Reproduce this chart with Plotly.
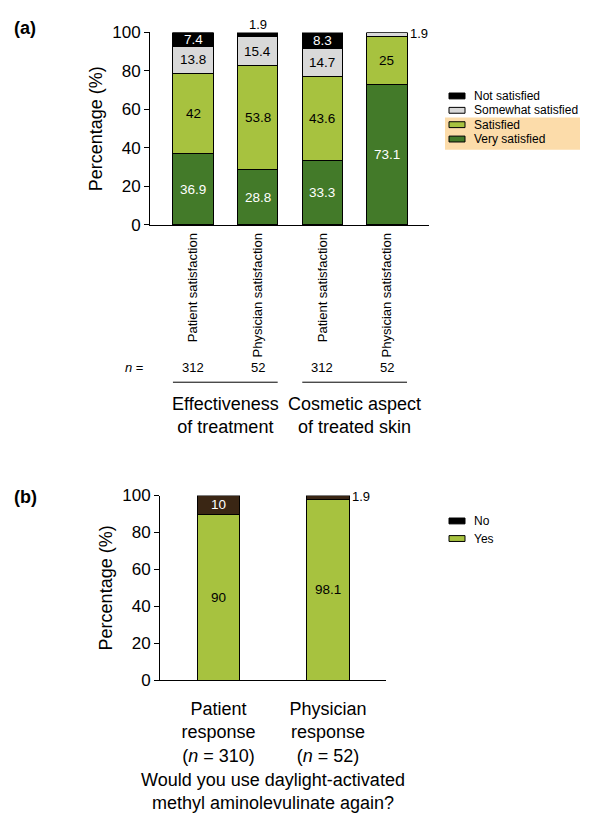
import plotly.graph_objects as go

W, H = 595, 826

# ---------------- data: panel (a) ----------------
cat_a = ["Patient satisfaction", "Physician satisfaction",
         "Patient satisfaction", "Physician satisfaction"]
n_a = ["312", "52", "312", "52"]
groups_a = ["Effectiveness<br>of treatment", "Cosmetic aspect<br>of treated skin"]
series_a = ["Very satisfied", "Satisfied", "Somewhat satisfied", "Not satisfied"]
very_satisfied = [36.9, 28.8, 33.3, 73.1]
satisfied = [42, 53.8, 43.6, 25]
somewhat_satisfied = [13.8, 15.4, 14.7, 1.9]
not_satisfied = [7.4, 1.9, 8.3, 0]

# ---------------- data: panel (b) ----------------
cat_b = ["Patient<br>response<br>(<i>n</i> = 310)", "Physician<br>response<br>(<i>n</i> = 52)"]
series_b = ["Yes", "No"]
yes_b = [90, 98.1]
no_b = [10, 1.9]

yticks = [0, 20, 40, 60, 80, 100]

# ---------------- styles ----------------
FONT = "Liberation Sans, Arial, sans-serif"
colors_a = ["#437a29", "#a7c23f", "#d9d9d9", "#000000"]
textcol_a = ["white", "black", "black", "white"]
colors_b = ["#a7c23f", "#3a2614"]
legend_col_b = ["#a7c23f", "#000000"]
textcol_b = ["black", "white"]
BW_A = 0.62
BW_B = 0.39
# where small (outside) labels go: (panel, bar index) -> side
outside_side = {("a", 1): "above", ("a", 3): "right", ("b", 1): "right"}


def px(x):
    return x / W


def py(y):
    return 1 - y / H


fig = go.Figure()
annotations = []
shapes = []

values_a = [very_satisfied, satisfied, somewhat_satisfied, not_satisfied]
xa = list(range(len(cat_a)))
for name, vals, col in zip(series_a, values_a, colors_a):
    fig.add_trace(go.Bar(x=xa, y=vals, name=name, width=BW_A,
                         marker=dict(color=col, line=dict(color="black", width=1)),
                         xaxis="x", yaxis="y", showlegend=False, hoverinfo="skip"))

values_b = [yes_b, no_b]
xb = list(range(len(cat_b)))
for name, vals, col in zip(series_b, values_b, colors_b):
    fig.add_trace(go.Bar(x=xb, y=vals, name=name, width=BW_B,
                         marker=dict(color=col, line=dict(color="black", width=1)),
                         xaxis="x2", yaxis="y2", showlegend=False, hoverinfo="skip"))


def add_value_labels(panel, xs, series_vals, tcols, xref, yref, bw_px):
    for i in xs:
        base = 0
        for vals, tc in zip(series_vals, tcols):
            v = vals[i]
            if v <= 0:
                continue
            label = f"{v:g}"
            if v < 3:
                side = outside_side.get((panel, i), "right")
                if side == "above":
                    annotations.append(dict(x=i, y=base + v, xref=xref, yref=yref, text=label,
                                            showarrow=False, xanchor="center", yanchor="bottom",
                                            yshift=-1, font=dict(size=13, color="black", family=FONT)))
                else:
                    annotations.append(dict(x=i, y=base + v / 2, xref=xref, yref=yref, text=label,
                                            showarrow=False, xanchor="left", yanchor="middle",
                                            xshift=bw_px / 2 + 1, yshift=1,
                                            font=dict(size=13, color="black", family=FONT)))
            else:
                annotations.append(dict(x=i, y=base + v / 2, xref=xref, yref=yref, text=label,
                                        showarrow=False, xanchor="center", yanchor="middle",
                                        font=dict(size=13.5, color=tc, family=FONT)))
            base += v


add_value_labels("a", xa, values_a, textcol_a, "x", "y", 40)
add_value_labels("b", xb, values_b, textcol_b, "x2", "y2", 43)

# n = row
annotations.append(dict(x=px(134), y=py(367), xref="paper", yref="paper",
                        text="<i>n</i> =", showarrow=False, xanchor="center", yanchor="middle",
                        font=dict(size=13, family=FONT, color="black")))
for i, n in zip(xa, n_a):
    annotations.append(dict(x=i, y=py(367), xref="x", yref="paper", text=n,
                            showarrow=False, xanchor="center", yanchor="middle",
                            font=dict(size=13, family=FONT, color="black")))

# group lines and labels
for g, label in enumerate(groups_a):
    i0, i1 = 2 * g, 2 * g + 1
    shapes.append(dict(type="line", xref="x", yref="paper",
                       x0=i0 - BW_A / 2, x1=i1 + BW_A / 2, y0=py(382), y1=py(382),
                       line=dict(color="black", width=1)))
    annotations.append(dict(x=(i0 + i1) / 2, y=py(416), xref="x", yref="paper", text=label,
                            showarrow=False, xanchor="center", yanchor="middle",
                            font=dict(size=18, family=FONT, color="black")))

# panel letters
annotations.append(dict(x=px(25), y=py(19), xref="paper", yref="paper", text="<b>(a)</b>",
                        showarrow=False, xanchor="center", yanchor="middle",
                        font=dict(size=18, family=FONT, color="black")))
annotations.append(dict(x=px(25), y=py(500), xref="paper", yref="paper", text="<b>(b)</b>",
                        showarrow=False, xanchor="center", yanchor="middle",
                        font=dict(size=18, family=FONT, color="black")))

# highlight box behind legend entries
shapes.append(dict(type="rect", xref="paper", yref="paper", layer="below",
                   x0=px(445), x1=px(580), y0=py(144), y1=py(111),
                   fillcolor="#fcdcaa", line=dict(width=0)))


def add_legend(names, cols, y_top, step):
    for k, (nm, col) in enumerate(zip(names, cols)):
        yc = y_top + k * step
        shapes.append(dict(type="rect", xref="paper", yref="paper",
                           x0=px(449), x1=px(465), y0=py(yc + 3), y1=py(yc - 3),
                           fillcolor=col, line=dict(color="black", width=1)))
        annotations.append(dict(x=px(472), y=py(yc), xref="paper", yref="paper", text=nm,
                                showarrow=False, xanchor="left", yanchor="middle",
                                font=dict(size=12, family=FONT, color="black")))


add_legend(series_a[::-1], colors_a[::-1], 89, 14.7)
add_legend(series_b[::-1], legend_col_b[::-1], 524, 18)

axis_common = dict(showline=True, linecolor="black", linewidth=1, showgrid=False,
                   zeroline=False)

fig.update_layout(
    width=W, height=H, margin=dict(l=0, r=0, t=0, b=0), autosize=False,
    paper_bgcolor="white", plot_bgcolor="white", barmode="stack",
    font=dict(family=FONT, color="black"),
    xaxis=dict(domain=[px(150), px(429)], range=[-0.665, 3.65], anchor="y",
               tickvals=xa, ticktext=cat_a, tickangle=-90, ticks="",
               ticklabelstandoff=2, tickfont=dict(size=13, family=FONT, color="black"),
               **axis_common),
    yaxis=dict(domain=[py(221), py(24)], range=[0, 100], anchor="x",
               tickvals=yticks, ticks="outside", ticklen=5, tickcolor="black",
               title=dict(text="Percentage (%)", font=dict(size=18, family=FONT), standoff=4),
               tickfont=dict(size=17, family=FONT, color="black"), **axis_common),
    xaxis2=dict(domain=[px(160), px(386)], range=[-0.534, 1.53], anchor="y2",
                tickvals=xb, ticktext=cat_b, ticks="", ticklabelstandoff=12,
                title=dict(text="Would you use daylight-activated<br>methyl aminolevulinate again?",
                           font=dict(size=18, family=FONT), standoff=8),
                tickfont=dict(size=18, family=FONT, color="black"), **axis_common),
    yaxis2=dict(domain=[py(687), py(498)], range=[0, 100], anchor="x2",
                tickvals=yticks, ticks="outside", ticklen=5, tickcolor="black",
                title=dict(text="Percentage (%)", font=dict(size=18, family=FONT), standoff=4),
                tickfont=dict(size=17, family=FONT, color="black"), **axis_common),
    annotations=annotations, shapes=shapes,
)

fig.write_html("out.html", config={"displayModeBar": False},
               post_script="document.body.style.margin='0';document.body.style.padding='0';")
